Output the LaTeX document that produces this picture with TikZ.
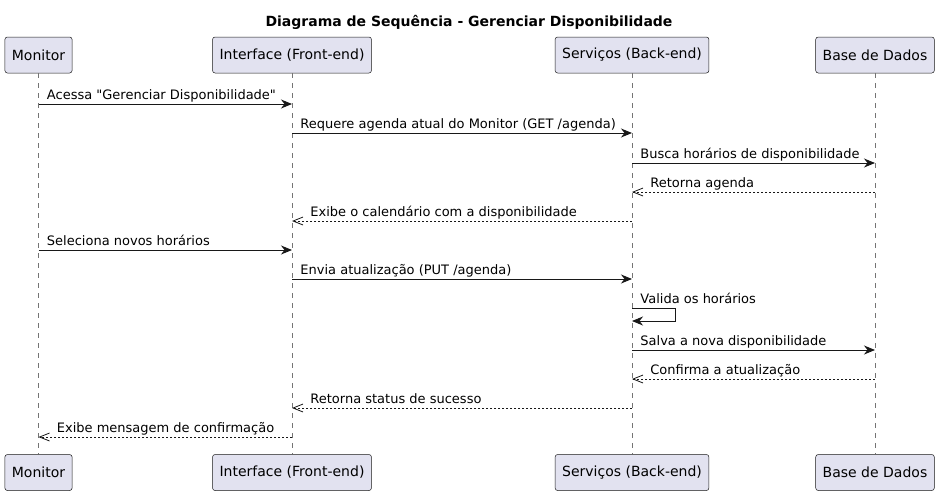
\documentclass[tikz,border=0pt]{standalone}
\usepackage{fontspec}
\setmainfont{DejaVu Sans}[Ligatures=TeXOff]
\usetikzlibrary{arrows.meta,calc}
\definecolor{partfill}{HTML}{E2E2F0}
\definecolor{ink}{HTML}{181818}
\tikzset{
  party/.style={rectangle, rounded corners=2.5pt, draw=ink, fill=partfill, line width=0.5pt, minimum height=36pt, inner xsep=7pt, font=\fontsize{14}{16}\selectfont},
  lifeline/.style={draw=ink!60, line width=0.5pt, dash pattern=on 5pt off 5pt},
  call/.style={draw=ink, line width=0.9pt, -{Stealth[length=11pt, width=9pt, inset=3.5pt]}},
  reply/.style={draw=ink, line width=0.8pt, dash pattern=on 2pt off 2pt, -{Straight Barb[length=10pt, width=8pt]}},
  msgr/.style={anchor=base west, inner sep=0pt, xshift=8pt, yshift=4.5pt, font=\fontsize{13}{15}\selectfont},
  msgl/.style={anchor=base west, inner sep=0pt, xshift=18pt, yshift=4.5pt, font=\fontsize{13}{15}\selectfont}
}
\begin{document}
\begin{tikzpicture}[x=1pt, y=-1pt]
\useasboundingbox (0,0) rectangle (939,490);
\node[font=\bfseries\fontsize{14}{16}\selectfont] (title) at (469,22.5) {Diagrama de Sequência - Gerenciar Disponibilidade};
% participants
\node[party] (monitorTop) at (38.5,55) {Monitor};
\node[party] (frontTop) at (292,55) {Interface (Front-end)};
\node[party] (backTop) at (632,55) {Serviços (Back-end)};
\node[party] (dbTop) at (875,55) {Base de Dados};
\node[party] (monitorBot) at (38.5,472.5) {Monitor};
\node[party] (frontBot) at (292,472.5) {Interface (Front-end)};
\node[party] (backBot) at (632,472.5) {Serviços (Back-end)};
\node[party] (dbBot) at (875,472.5) {Base de Dados};
\draw[lifeline] (monitorTop) -- (monitorBot);
\draw[lifeline] (frontTop) -- (frontBot);
\draw[lifeline] (backTop) -- (backBot);
\draw[lifeline] (dbTop) -- (dbBot);
% message rows
\coordinate (m1) at (0,104);
\coordinate (m2) at (0,133);
\coordinate (m3) at (0,163);
\coordinate (m4) at (0,192);
\coordinate (m5) at (0,221);
\coordinate (m6) at (0,250);
\coordinate (m7) at (0,279);
\coordinate (m8) at (0,308);
\coordinate (m9) at (0,350);
\coordinate (m10) at (0,379);
\coordinate (m11) at (0,408);
\coordinate (m12) at (0,437);
\draw[call] (monitorTop |- m1) -- node[pos=0, msgr] {Acessa "Gerenciar Disponibilidade"} (frontTop |- m1);
\draw[call] (frontTop |- m2) -- node[pos=0, msgr] {Requere agenda atual do Monitor (GET /agenda)} (backTop |- m2);
\draw[call] (backTop |- m3) -- node[pos=0, msgr] {Busca horários de disponibilidade} (dbTop |- m3);
\draw[reply] (dbTop |- m4) -- node[pos=1, msgl] {Retorna agenda} (backTop |- m4);
\draw[reply] (backTop |- m5) -- node[pos=1, msgl] {Exibe o calendário com a disponibilidade} (frontTop |- m5);
\draw[call] (monitorTop |- m6) -- node[pos=0, msgr] {Seleciona novos horários} (frontTop |- m6);
\draw[call] (frontTop |- m7) -- node[pos=0, msgr] {Envia atualização (PUT /agenda)} (backTop |- m7);
\draw[call] (backTop |- m8) node[msgr] {Valida os horários} -- ++(43,0) -- ++(0,13) -- ($(backTop |- m8)+(0,13)$);
\draw[call] (backTop |- m9) -- node[pos=0, msgr] {Salva a nova disponibilidade} (dbTop |- m9);
\draw[reply] (dbTop |- m10) -- node[pos=1, msgl] {Confirma a atualização} (backTop |- m10);
\draw[reply] (backTop |- m11) -- node[pos=1, msgl] {Retorna status de sucesso} (frontTop |- m11);
\draw[reply] (frontTop |- m12) -- node[pos=1, msgl] {Exibe mensagem de confirmação} (monitorTop |- m12);
\end{tikzpicture}
\end{document}
